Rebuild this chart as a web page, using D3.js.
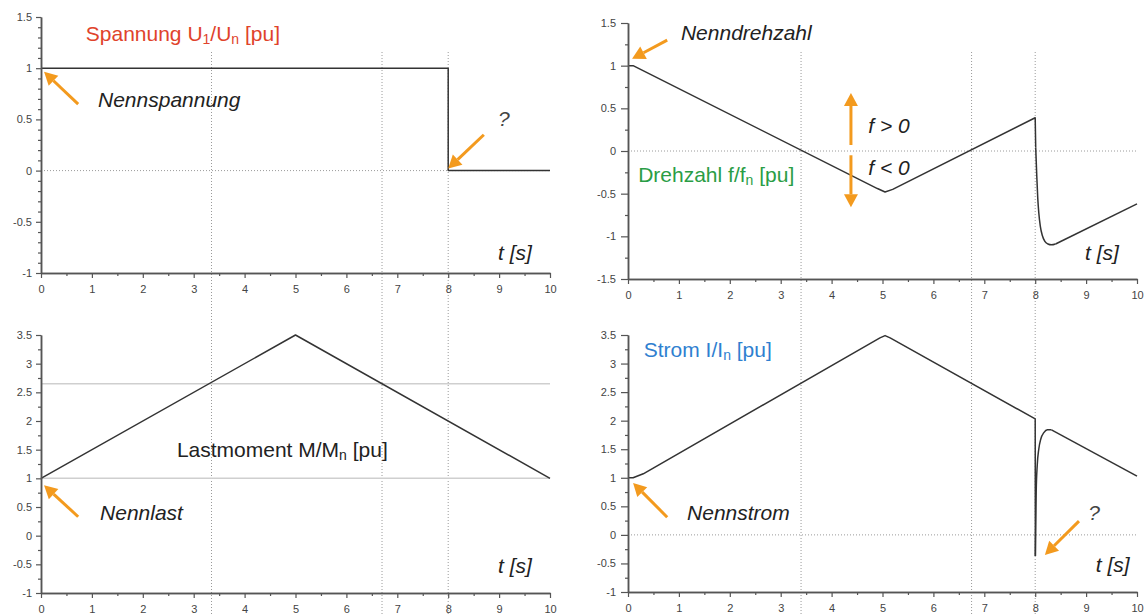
<!DOCTYPE html>
<html>
<head>
<meta charset="utf-8">
<script src="https://cdn.jsdelivr.net/npm/d3@7"></script>
<style>
  body { margin: 0; background: #fff; }
  svg { font-family: "Liberation Sans", Arial, sans-serif; }
</style>
</head>
<body>
<svg width="1145" height="614"></svg>
<script>
// --- values ---
var voltT = [0, 8, 8, 10];
var voltV = [1, 1, 0, 0];

var speedT = [0, 0.1, 4.9, 5.05, 5.2, 8, 8.01, 8.03, 8.05, 8.07, 8.1, 8.14, 8.19, 8.25, 8.32, 8.4, 10];
var speedV = [1, 1, -0.44, -0.48, -0.45, 0.39, 0.04, -0.28, -0.55, -0.72, -0.88, -0.99, -1.06, -1.09, -1.1, -1.09, -0.62];

var loadT = [0, 5, 10];
var loadV = [1, 3.5, 1];
var loadRefs = [1, 2.65];

var curT = [0, 0.1, 0.3, 4.95, 5.05, 5.15, 8, 8.003, 8.02, 8.04, 8.07, 8.11, 8.17, 8.24, 8.32, 10];
var curV = [1, 1, 1.07, 3.45, 3.49, 3.45, 2.03, -0.37, 0.77, 1.22, 1.5, 1.68, 1.79, 1.84, 1.84, 1.03];

var marksLeft = [3.35, 6.7, 8];
var marksRight = [3.4, 6.75, 8];

var xTicks = [0, 1, 2, 3, 4, 5, 6, 7, 8, 9, 10];
var yTicksVolt = [-1, -0.5, 0, 0.5, 1, 1.5];
var yTicksSpeed = [-1.5, -1, -0.5, 0, 0.5, 1, 1.5];
var yTicksLoad = [-1, -0.5, 0, 0.5, 1, 1.5, 2, 2.5, 3, 3.5];

var orange = "#f39a1e";
var svg = d3.select("svg");

function panel(left, right, bottom, top, dom) {
  return {
    x: d3.scaleLinear().domain([0, 10]).range([left, right]),
    y: d3.scaleLinear().domain(dom).range([bottom, top])
  };
}

var tl = panel(41, 550, 273, 17, [-1, 1.5]);
var tr = panel(628, 1137, 279, 23, [-1.5, 1.5]);
var bl = panel(41, 550, 593, 335, [-1, 3.5]);
var br = panel(628, 1137, 592, 335, [-1, 3.5]);

// vertical dotted markers running through both rows
function vMarks(p, marks) {
  svg.selectAll(null).data(marks).enter().append("line")
    .attr("x1", d => p.x(d)).attr("x2", d => p.x(d))
    .attr("y1", 52).attr("y2", 614)
    .attr("stroke", "#9a9a9a").attr("stroke-width", 1)
    .attr("stroke-dasharray", "1,2");
}
vMarks(tl, marksLeft);
vMarks(tr, marksRight);

function zeroLine(p) {
  svg.append("line")
    .attr("x1", p.x(0)).attr("x2", p.x(10))
    .attr("y1", p.y(0)).attr("y2", p.y(0))
    .attr("stroke", "#9a9a9a").attr("stroke-width", 1)
    .attr("stroke-dasharray", "1,2");
}
zeroLine(tl); zeroLine(tr); zeroLine(br);

svg.selectAll(null).data(loadRefs).enter().append("line")
  .attr("x1", bl.x(0)).attr("x2", bl.x(10))
  .attr("y1", d => bl.y(d)).attr("y2", d => bl.y(d))
  .attr("stroke", "#cfcfcf").attr("stroke-width", 1.5);

// straight segments, with an optional smoothed stretch [s0, s1] (point indices)
function curve(p, T, V, s0, s1) {
  var pts = d3.zip(T, V);
  var lin = d3.line().x(d => p.x(d[0])).y(d => p.y(d[1]));
  var smooth = d3.line().x(d => p.x(d[0])).y(d => p.y(d[1])).curve(d3.curveMonotoneX);
  var parts = s0 == null ? [[pts, lin]] :
    [[pts.slice(0, s0 + 1), lin], [pts.slice(s0, s1 + 1), smooth], [pts.slice(s1), lin]];
  parts.forEach(function (q) {
    svg.append("path").datum(q[0])
      .attr("d", q[1])
      .attr("fill", "none").attr("stroke", "#333").attr("stroke-width", 1.5)
      .attr("stroke-linejoin", "round");
  });
}
curve(tl, voltT, voltV);
curve(tr, speedT, speedV, 6, 15);
curve(bl, loadT, loadV);
curve(br, curT, curV, 7, 14);

function styleAxis(g) {
  g.select(".domain").attr("stroke", "#555").attr("stroke-width", 1.5);
  g.selectAll(".tick line").attr("stroke", "#555").attr("stroke-width", 1.2);
  g.selectAll("text").attr("fill", "#444")
    .attr("font-size", 11).attr("font-family", "'Liberation Sans', Arial, sans-serif");
}

function axes(p, yTicks, minorStep, ySize, yPad) {
  var d = p.y.domain();
  var minor = d3.range(d[0], d[1] + 1e-9, minorStep).filter(v => yTicks.indexOf(+v.toFixed(2)) < 0);
  svg.append("g").attr("transform", "translate(" + p.x(0) + ",0)")
    .call(d3.axisLeft(p.y).tickValues(minor).tickSize(3).tickSizeOuter(0).tickFormat(""))
    .call(styleAxis);
  svg.append("g").attr("transform", "translate(" + p.x(0) + ",0)")
    .call(d3.axisLeft(p.y).tickValues(yTicks).tickSize(ySize).tickPadding(yPad).tickSizeOuter(0).tickFormat(v => String(v)))
    .call(styleAxis);
  var y0 = p.y(d[0]);
  svg.append("g").attr("transform", "translate(0," + y0 + ")")
    .call(d3.axisBottom(p.x).tickValues(d3.range(0.5, 10, 1)).tickSize(3).tickSizeOuter(0).tickFormat(""))
    .call(styleAxis);
  svg.append("g").attr("transform", "translate(0," + y0 + ")")
    .call(d3.axisBottom(p.x).tickValues(xTicks).tickSize(5).tickPadding(7).tickSizeOuter(0).tickFormat(v => String(v)))
    .call(styleAxis);
}
axes(tl, yTicksVolt, 0.1, 5, 4);
axes(tr, yTicksSpeed, 0.25, 7, 5);
axes(bl, yTicksLoad, 0.25, 5, 4);
axes(br, yTicksLoad, 0.25, 7, 5);

// text labels; parts: [text, subscript?]
function label(p, t, v, parts, color, italic) {
  var txt = svg.append("text")
    .attr("x", p.x(t)).attr("y", p.y(v))
    .attr("font-size", 21)
    .attr("fill", color)
    .attr("font-style", italic ? "italic" : "normal");
  parts.forEach(function (q, i) {
    var s = txt.append("tspan").text(q[0]);
    if (q[1]) s.attr("font-size", 14).attr("dy", 3);
    else if (i > 0 && parts[i - 1][1]) s.attr("dy", -3);
  });
}

function arrow(p, t0, v0, t1, v1) {
  var x0 = p.x(t0), y0 = p.y(v0), x1 = p.x(t1), y1 = p.y(v1);
  var a = Math.atan2(y1 - y0, x1 - x0), L = 13, W = 7;
  var bx = x1 - L * Math.cos(a), by = y1 - L * Math.sin(a);
  svg.append("line").attr("x1", x0).attr("y1", y0).attr("x2", bx).attr("y2", by)
    .attr("stroke", orange).attr("stroke-width", 3);
  svg.append("path")
    .attr("d", "M" + x1 + "," + y1 +
      "L" + (bx + W * Math.sin(a)) + "," + (by - W * Math.cos(a)) +
      "L" + (bx - W * Math.sin(a)) + "," + (by + W * Math.cos(a)) + "Z")
    .attr("fill", orange);
}

// top left
label(tl, 0.88, 1.266, [["Spannung U"], ["1", true], ["/U"], ["n", true], [" [pu]"]], "#e0432b", false);
label(tl, 1.12, 0.62, [["Nennspannung"]], "#222", true);
arrow(tl, 0.73, 0.65, 0.06, 0.965);
label(tl, 8.98, 0.44, [["?"]], "#444", true);
arrow(tl, 8.7, 0.35, 8.0, 0.02);
label(tl, 8.98, -0.87, [["t [s]"]], "#222", true);

// top right
label(tr, 1.04, 1.3, [["Nenndrehzahl"]], "#222", true);
arrow(tr, 0.77, 1.3, 0.08, 1.08);
arrow(tr, 4.38, 0.07, 4.38, 0.68);
arrow(tr, 4.38, -0.05, 4.38, -0.66);
label(tr, 4.72, 0.21, [["f > 0"]], "#222", true);
label(tr, 4.72, -0.28, [["f < 0"]], "#222", true);
label(tr, 0.2, -0.36, [["Drehzahl f/f"], ["n", true], [" [pu]"]], "#2a9d45", false);
label(tr, 8.98, -1.28, [["t [s]"]], "#222", true);

// bottom left
label(bl, 2.67, 1.37, [["Lastmoment M/M"], ["n", true], [" [pu]"]], "#222", false);
label(bl, 1.16, 0.27, [["Nennlast"]], "#222", true);
arrow(bl, 0.73, 0.33, 0.06, 0.88);
label(bl, 8.98, -0.65, [["t [s]"]], "#222", true);

// bottom right
label(br, 0.31, 3.12, [["Strom I/I"], ["n", true], [" [pu]"]], "#2f7fd0", false);
label(br, 1.16, 0.26, [["Nennstrom"]], "#222", true);
arrow(br, 0.77, 0.31, 0.1, 0.91);
label(br, 9.04, 0.26, [["?"]], "#444", true);
arrow(br, 8.86, 0.24, 8.19, -0.35);
label(br, 9.19, -0.65, [["t [s]"]], "#222", true);
</script>
</body>
</html>
